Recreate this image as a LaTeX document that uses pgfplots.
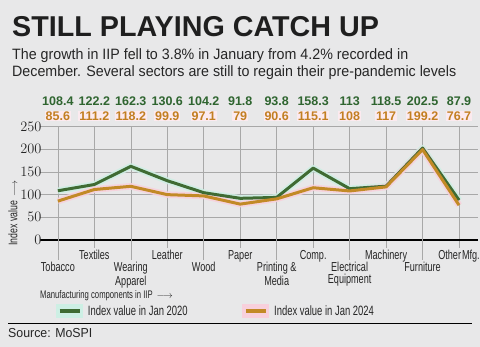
\documentclass[border=0pt]{standalone}
\usepackage{pgfplots}
\pgfplotsset{compat=1.18}
\usepackage{fontspec}
\setmainfont{Liberation Sans}
\newfontfamily\cond[FakeStretch=0.7]{Liberation Sans}
\newfontfamily\subf[FakeStretch=0.95]{Liberation Sans}
\definecolor{bg}{HTML}{E8E8E9}
\definecolor{gline}{HTML}{3F6B33}
\definecolor{oline}{HTML}{C28A26}
\definecolor{gtext}{HTML}{2F6530}
\definecolor{otext}{HTML}{C27F22}
\definecolor{gglow}{HTML}{CDEFE4}
\definecolor{oglow}{HTML}{F8D0DC}
\definecolor{gridc}{HTML}{A8A8A8}
\begin{document}
\begin{tikzpicture}[x=1pt,y=1pt]
\useasboundingbox (0,0) rectangle (480,347);
\fill[bg] (0,0) rectangle (480,347);
\node[anchor=base west,inner sep=0pt,font=\bfseries\fontsize{28.7}{28.7}\selectfont,text=black!88] at (12,310) {STILL PLAYING CATCH UP};
\node[anchor=base west,inner sep=0pt,font=\subf\fontsize{15}{15}\selectfont,text=black!85] at (12,287) {The growth in IIP fell to 3.8\% in January from 4.2\% recorded in};
\node[anchor=base west,inner sep=0pt,font=\subf\fontsize{15}{15}\selectfont,text=black!85] at (12,270) {December. Several sectors are still to regain their pre-pandemic levels};
\begin{axis}[
  at={(40pt,107pt)}, anchor=south west,
  scale only axis, width=438pt, height=113.5pt,
  xmin=-0.49, xmax=11.52, ymin=0, ymax=250,
  clip=false,
  axis x line*=bottom, axis y line*=left,
  x axis line style={black, line width=1.3pt},
  y axis line style={draw=none},
  grid=major, major grid style={gridc, line width=0.6pt},
  ytick={0,50,100,150,200,250},
  yticklabel style={font=\cond\fontsize{14}{14}\selectfont, text=black!85, anchor=east, xshift=13pt},
  y tick style={draw=none},
  xtick={1,3,5,7,9,11},
  xticklabels={Textiles,Leather,Paper,Comp.,Machinery,Other\hspace{1pt}Mfg.},
  tick align=outside,
  major tick length=8pt,
  x tick style={gridc, line width=0.6pt},
  xticklabel style={font=\cond\fontsize{13}{11.5}\selectfont, text=black!85, align=center, anchor=north, yshift=1pt},
  extra x ticks={0,2,4,6,8,10},
  extra x tick labels={Tobacco,Wearing\\Apparel,Wood,Printing \&\\Media,Electrical\\Equipment,Furniture},
  extra x tick style={major tick length=20pt, grid=major, xticklabel style={yshift=0pt}},
  legend style={at={(axis description cs:0.035,-0.626)}, anchor=west, draw=none, fill=none, inner sep=0pt, legend columns=2, font=\cond\fontsize{13.5}{13.5}\selectfont, text=black!85, /tikz/every even column/.append style={column sep=52pt}},
  legend cell align=left,
]
% glows
\addplot[gglow, line width=6.5pt, opacity=0.85, line join=round, forget plot] coordinates {(0,108.4) (1,122.2) (2,162.3) (3,130.6) (4,104.2) (5,91.8) (6,93.8) (7,158.3) (8,113) (9,118.5) (10,202.5) (11,87.9)};
\addplot[oglow, line width=6.5pt, opacity=0.85, line join=round, forget plot] coordinates {(0,85.6) (1,111.2) (2,118.2) (3,99.9) (4,97.1) (5,79) (6,90.6) (7,115.1) (8,108) (9,117) (10,199.2) (11,76.7)};
% lines
\addplot[gline, line width=3pt, line join=round, forget plot] coordinates {(0,108.4) (1,122.2) (2,162.3) (3,130.6) (4,104.2) (5,91.8) (6,93.8) (7,158.3) (8,113) (9,118.5) (10,202.5) (11,87.9)};
\addplot[oline, line width=3pt, line join=round, forget plot] coordinates {(0,85.6) (1,111.2) (2,118.2) (3,99.9) (4,97.1) (5,79) (6,90.6) (7,115.1) (8,108) (9,117) (10,199.2) (11,76.7)};
% value labels
\addplot[draw=none, mark=none, forget plot, nodes near coords, point meta=explicit symbolic,
  every node near coord/.style={anchor=center, font=\bfseries\fontsize{12.5}{12.5}\selectfont, text=gtext, inner sep=1pt}]
  coordinates {(0,306)[108.4] (1,306)[122.2] (2,306)[162.3] (3,306)[130.6] (4,306)[104.2] (5,306)[91.8] (6,306)[93.8] (7,306)[158.3] (8,306)[113] (9,306)[118.5] (10,306)[202.5] (11,306)[87.9]};
\addplot[draw=none, mark=none, forget plot, nodes near coords, point meta=explicit symbolic,
  every node near coord/.style={anchor=center, font=\bfseries\fontsize{12.5}{12.5}\selectfont, text=otext, fill=oglow!45, inner sep=1pt}]
  coordinates {(0,273)[85.6] (1,273)[111.2] (2,273)[118.2] (3,273)[99.9] (4,273)[97.1] (5,273)[79] (6,273)[90.6] (7,273)[115.1] (8,273)[108] (9,273)[117] (10,273)[199.2] (11,273)[76.7]};
\addlegendimage{legend image code/.code={\fill[gglow] (-2pt,-6.5pt) rectangle (24pt,6.5pt); \draw[gline, line width=4pt] (2pt,0) -- (22pt,0); \path (28pt,0);}}
\addlegendentry{Index value in Jan 2020}
\addlegendimage{legend image code/.code={\fill[oglow] (-2pt,-6.5pt) rectangle (24pt,6.5pt); \draw[oline, line width=4pt] (2pt,0) -- (22pt,0); \path (28pt,0);}}
\addlegendentry{Index value in Jan 2024}
\end{axis}
\node[anchor=west,inner sep=0pt,font=\cond\fontsize{11}{11}\selectfont,text=black!85] at (40,51) {Manufacturing components in IIP \,{\fontsize{10}{10}\selectfont$\longrightarrow$}};
\node[rotate=90,inner sep=0pt,font=\cond\fontsize{12.5}{12.5}\selectfont,text=black!85] at (13,134) {Index value \,{\fontsize{10}{10}\selectfont$\longrightarrow$}};
\draw[black, line width=1pt] (8,23) -- (472,23);
\node[anchor=base west,inner sep=0pt,font=\subf\fontsize{13}{13}\selectfont,text=black!85] at (8,9) {Source: MoSPI};
\end{tikzpicture}
\end{document}
